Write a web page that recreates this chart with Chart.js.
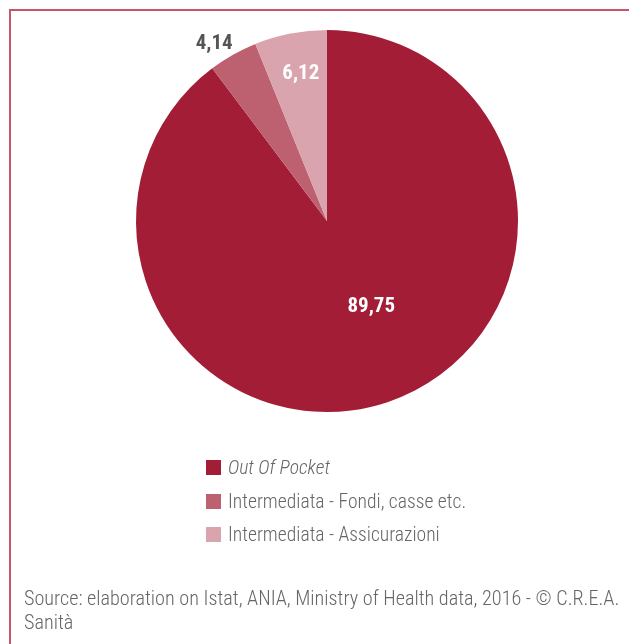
<!DOCTYPE html>
<html>
<head>
<meta charset="utf-8">
<script src="https://cdn.jsdelivr.net/npm/chart.js@4.4.0/dist/chart.umd.min.js"></script>
<style>
	html, body { margin: 0; padding: 0; background: #fff; }
	.frame { position: relative; width: 629px; height: 644px; overflow: hidden; font-family: 'Roboto Condensed', 'Liberation Sans Narrow', Roboto, sans-serif; font-weight: 300; }
	.frame .edge-top { position: absolute; left: 9px; top: 9px; width: 620px; height: 2px; background: #c75668; }
	.frame .edge-left { position: absolute; left: 9px; top: 9px; width: 2px; height: 635px; background: #c75668; }
	#pie { position: absolute; left: 0; top: 0; }
	.legend { position: absolute; left: 206px; top: 451px; }
	.legend .item { display: flex; align-items: center; height: 33.5px; font-size: 19.6px; color: #666; }
	.legend .swatch { width: 15px; height: 15px; margin-right: 7px; }
	.source { position: absolute; left: 24px; top: 586px; font-size: 20.2px; line-height: 24px; color: #666; width: 610px; white-space: nowrap; }
</style>
</head>
<body>
<div class="frame">
	<canvas id="pie" width="629" height="644"></canvas>
	<div class="edge-top"></div>
	<div class="edge-left"></div>
	<div class="legend" id="legend"></div>
	<div class="source">Source: elaboration on Istat, ANIA, Ministry of Health data, 2016 - © C.R.E.A.<br>Sanità</div>
</div>
<script>
const labels = ['Out Of Pocket', 'Intermediata - Fondi, casse etc.', 'Intermediata - Assicurazioni'];
const values = [89.75, 4.14, 6.12];
const colours = ['#a31d36', '#bd6170', '#d9a4ad'];

// legend rows
const legend = document.getElementById('legend');
labels.forEach((l, i) => {
	const row = document.createElement('div');
	row.className = 'item';
	row.innerHTML = `<span class="swatch" style="background:${colours[i]}"></span><span style="${i === 0 ? 'font-style: italic;' : ''}">${l}</span>`;
	legend.appendChild(row);
});

// value labels: inside for the big slices, outside for the small one
const sliceLabels = {
	id: 'sliceLabels',
	afterDatasetsDraw(chart) {
		const ctx = chart.ctx;
		const arcs = chart.getDatasetMeta(0).data;
		ctx.save();
		ctx.font = "bold 21px 'Roboto Condensed', 'Liberation Sans Narrow', Roboto, sans-serif";
		ctx.textAlign = 'center';
		ctx.textBaseline = 'middle';
		arcs.forEach((arc, i) => {
			const mid = (arc.startAngle + arc.endAngle) / 2;
			const text = values[i].toFixed(2).replace('.', ',');
			let r, colour, dx = 0, dy = 0;
			if (i === 0) { r = arc.outerRadius * 0.5; colour = '#fff'; dx = 14; dy = -5; }
			else if (i === 1) { r = arc.outerRadius * 1.04; colour = '#555'; dx = -15; dy = -4; }
			else { r = arc.outerRadius * 0.8; colour = '#fff'; dx = 3; dy = 3; }
			ctx.fillStyle = colour;
			ctx.fillText(text, arc.x + Math.cos(mid) * r + dx, arc.y + Math.sin(mid) * r + dy);
		});
		ctx.restore();
	}
};

new Chart(document.getElementById('pie'), {
	type: 'pie',
	data: {
		labels: labels,
		datasets: [{
			data: values,
			backgroundColor: colours,
			borderWidth: 0
		}]
	},
	options: {
		responsive: false,
		animation: false,
		layout: { padding: { left: 136, right: 111, top: 30, bottom: 232 } },
		plugins: { legend: { display: false }, tooltip: { enabled: false } }
	},
	plugins: [sliceLabels]
});
</script>
</body>
</html>
